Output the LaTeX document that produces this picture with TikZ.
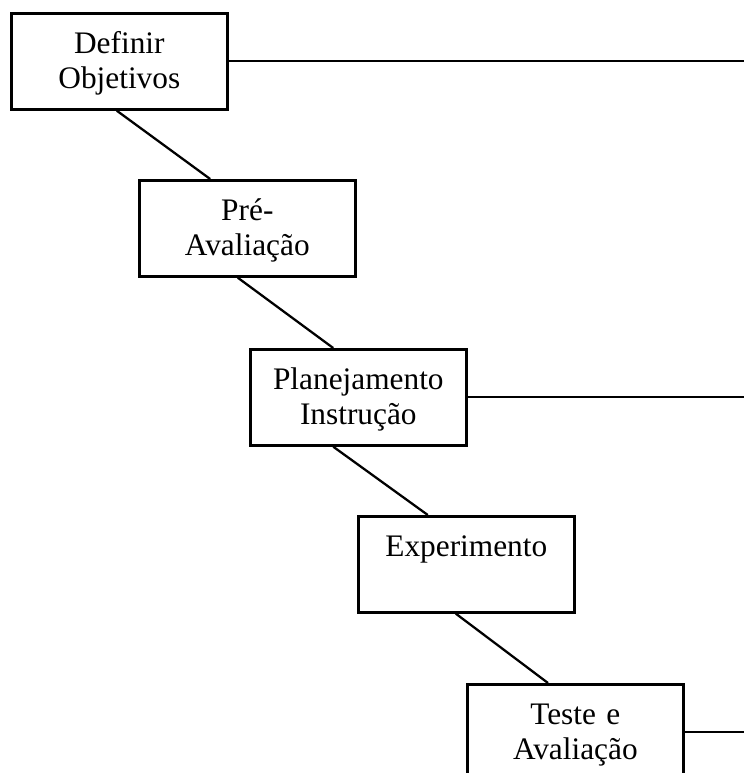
\documentclass[tikz,border=0pt]{standalone}
\usepackage{fontspec}
\setmainfont{Liberation Serif}
\tikzset{every picture/.style={line width=1.7pt}}
\tikzset{etapa/.style={draw, line width=2pt, anchor=north west, inner sep=0pt, text width=162pt, align=center, text height=30pt, text depth=42pt, font=\fontsize{23.5}{26.5}\selectfont}}

\begin{document}
\begin{tikzpicture}[x=0.75pt,y=0.75pt,yscale=-1,xscale=1]
\useasboundingbox (0,0) rectangle (744,773);
\clip (0,0) rectangle (744,773);
\coordinate (margem) at (744,0);

%Shape: Rectangle
\node [etapa] (definir) at (10,12) {Definir\\Objetivos};
%Shape: Rectangle
\node [etapa] (preaval) at (138,179) {Pré-\\Avaliação};
%Shape: Rectangle
\node [etapa] (planej) at (249,348) {Planejamento\\Instrução};
%Shape: Rectangle
\node [etapa] (experim) at (357,515) {Experimento};
%Shape: Rectangle
\node [etapa] (teste) at (466,683) {Teste e\\Avaliação};

%Straight Lines
\draw (definir.267) -- (preaval.127);
\draw (preaval.259) -- (planej.117);
\draw (planej.243) -- (experim.128);
\draw (experim.258) -- (teste.119);

%Straight Lines
\draw (definir.east) -- (definir.east -| margem);
\draw (planej.east) -- (planej.east -| margem);
\draw (teste.east) -- (teste.east -| margem);

\end{tikzpicture}
\end{document}
